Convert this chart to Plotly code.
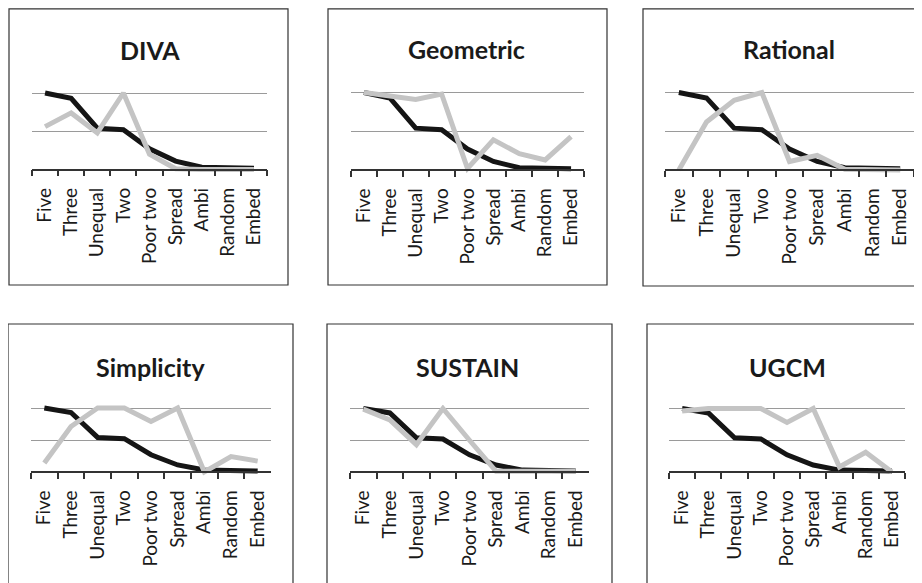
import plotly.graph_objects as go

# The page body has an 8px default margin, so the figure is shifted by OFF
OFF = 8
W, H = 922 - OFF, 583 - OFF

categories = ["Five", "Three", "Unequal", "Two", "Poor two", "Spread", "Ambi", "Random", "Embed"]

# Black series (common to all panels)
black_values = [1.00, 0.93, 0.54, 0.52, 0.27, 0.11, 0.03, 0.025, 0.015]

# Gray series per model
titles = ["DIVA", "Geometric", "Rational", "Simplicity", "SUSTAIN", "UGCM"]
gray_diva = [0.56, 0.74, 0.48, 1.00, 0.20, 0.01, 0.00, 0.00, 0.00]
gray_geometric = [1.00, 0.95, 0.91, 0.98, 0.02, 0.39, 0.21, 0.13, 0.43]
gray_rational = [0.00, 0.62, 0.90, 1.00, 0.11, 0.19, 0.01, 0.01, 0.00]
gray_simplicity = [0.14, 0.71, 1.00, 1.00, 0.79, 1.00, 0.00, 0.24, 0.17]
gray_sustain = [0.99, 0.82, 0.43, 1.00, 0.50, 0.01, 0.01, 0.01, 0.01]
gray_ugcm = [0.96, 1.00, 1.00, 1.00, 0.78, 1.00, 0.08, 0.31, 0.00]
gray_series = [gray_diva, gray_geometric, gray_rational, gray_simplicity, gray_sustain, gray_ugcm]

# Panel layout in window pixels: axis x-start, x-end, y of value 0, y of value 1
panels = [
    dict(x0=32, x1=267, yz=169.5, yo=93.0, box=(9, 8, 288, 285), tx=150, ty=50),
    dict(x0=351, x1=584, yz=170.0, yo=92.5, box=(328, 7, 607, 285), tx=467, ty=49),
    dict(x0=665, x1=914, yz=170.0, yo=92.5, box=(643, 7, 930, 286), tx=789, ty=49),
    dict(x0=31, x1=271, yz=472.0, yo=408.0, box=(8, 324, 293, 600), tx=150, ty=367),
    dict(x0=350, x1=589, yz=472.0, yo=408.5, box=(327, 324, 612, 600), tx=468, ty=367),
    dict(x0=669, x1=905, yz=472.0, yo=408.5, box=(647, 324, 930, 600), tx=787, ty=367),
]

PAD = 0.06
FONT = "Lato"

fig = go.Figure()
layout = dict(
    width=W, height=H, margin=dict(l=0, r=0, t=0, b=0),
    paper_bgcolor="white", plot_bgcolor="rgba(0,0,0,0)",
    showlegend=False, shapes=[], annotations=[],
    font=dict(family=FONT, color="#1a1a1a"),
)

def px_x(p):
    return (p - OFF) / W

def px_y(p):
    return 1 - (p - OFF) / H

for i, (p, title, gray) in enumerate(zip(panels, titles, gray_series)):
    n = i + 1
    xa = "x" if n == 1 else f"x{n}"
    ya = "y" if n == 1 else f"y{n}"
    unit = p["yz"] - p["yo"]
    bottom_px = p["yz"] + PAD * unit
    top_px = p["yo"] - PAD * unit
    fig.add_trace(go.Scatter(x=categories, y=black_values, mode="lines",
                             line=dict(color="#151515", width=5),
                             xaxis=xa, yaxis=ya, cliponaxis=False))
    fig.add_trace(go.Scatter(x=categories, y=gray, mode="lines",
                             line=dict(color="#c4c4c4", width=5),
                             xaxis=xa, yaxis=ya, cliponaxis=False))
    layout[f"xaxis{'' if n == 1 else n}"] = dict(
        domain=[px_x(p["x0"]), px_x(p["x1"])],
        anchor="free", position=px_y(p["yz"]),
        type="category", categoryorder="array", categoryarray=categories,
        range=[-0.5, 8.5], tickson="boundaries",
        showline=True, linecolor="#333333", linewidth=1.5,
        ticks="outside", ticklen=6, tickwidth=1.5, tickcolor="#333333",
        tickangle=-90, ticklabelstandoff=10,
        tickfont=dict(family=FONT, size=19, color="#1a1a1a"),
        showgrid=False, zeroline=False, fixedrange=True,
    )
    layout[f"yaxis{'' if n == 1 else n}"] = dict(
        domain=[px_y(bottom_px), px_y(top_px)],
        anchor=xa, range=[-PAD, 1 + PAD],
        tickvals=[0.5, 1.0], showticklabels=False, ticks="",
        showgrid=True, gridcolor="#9a9a9a", gridwidth=1,
        zeroline=False, showline=False, fixedrange=True,
    )
    bx0, by0, bx1, by1 = p["box"]
    by0 = max(by0, OFF + 0.8)
    layout["shapes"].append(dict(
        type="rect", xref="paper", yref="paper",
        x0=px_x(bx0), x1=px_x(bx1), y0=px_y(by1), y1=px_y(by0),
        line=dict(color="#333333", width=1.2), fillcolor="rgba(0,0,0,0)", layer="below",
    ))
    layout["annotations"].append(dict(
        text=f"<b>{title}</b>", xref="paper", yref="paper",
        x=px_x(p["tx"]), y=px_y(p["ty"]), xanchor="center", yanchor="middle",
        showarrow=False, font=dict(family=FONT, size=25, color="#1a1a1a"),
    ))

fig.update_layout(**layout)
fig.write_html("out.html")
